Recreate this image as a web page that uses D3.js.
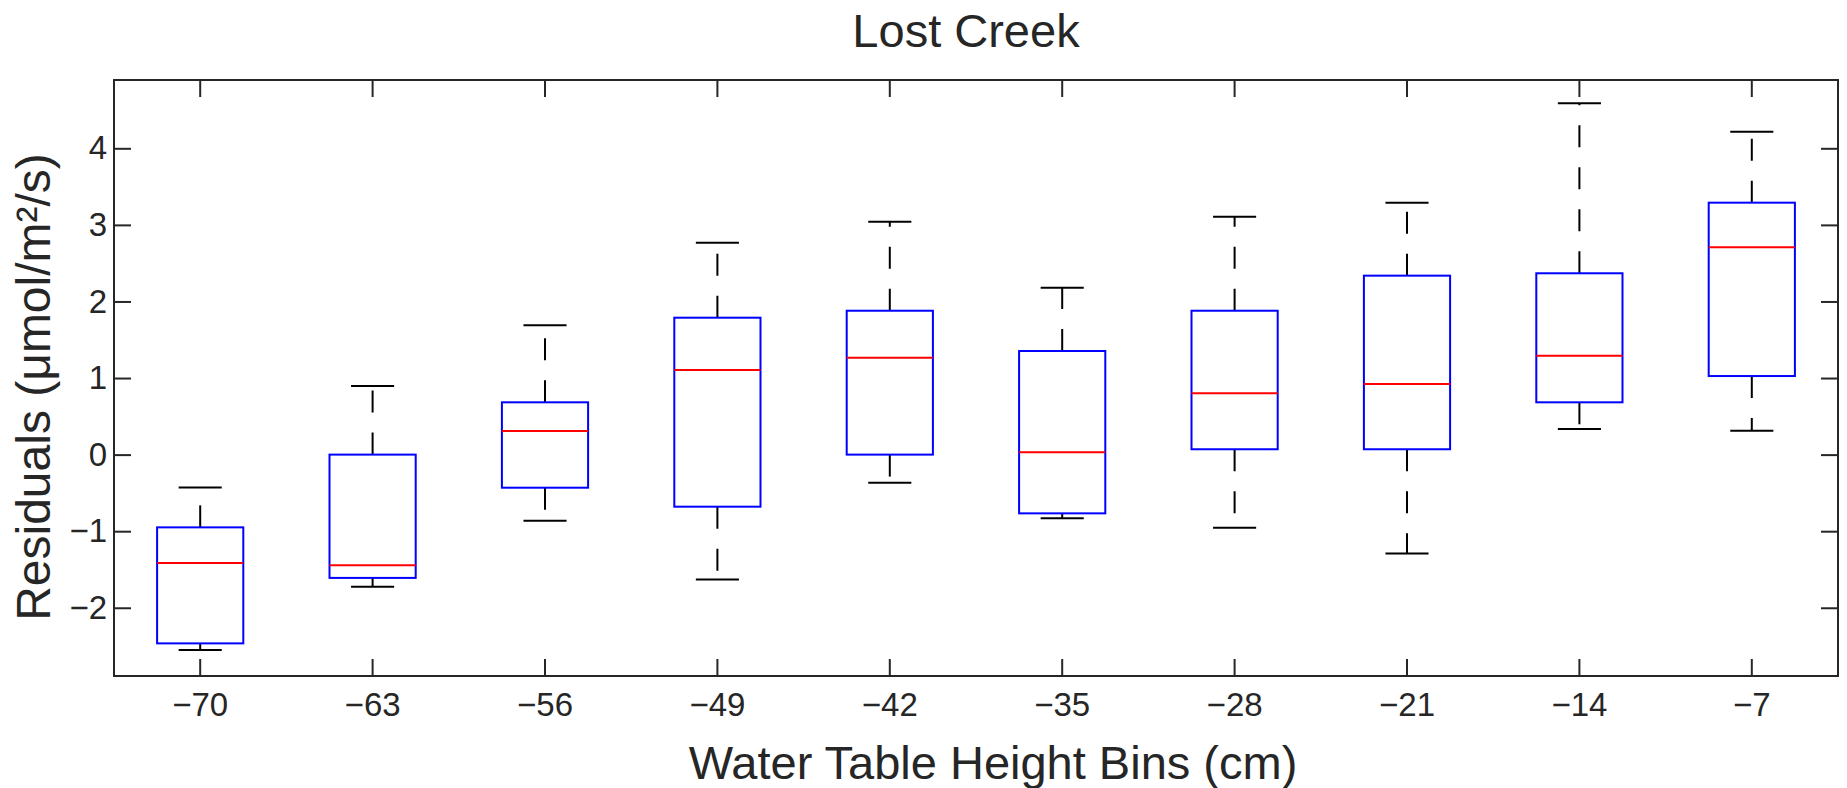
<!DOCTYPE html>
<html>
<head>
<meta charset="utf-8">
<script src="https://cdn.jsdelivr.net/npm/d3@7"></script>
<style>
  body { margin: 0; background: #fff; }
  text { font-family: "Liberation Sans", Arial, sans-serif; fill: #262626; }
</style>
</head>
<body>
<svg></svg>
<script>
const bins = [-70, -63, -56, -49, -42, -35, -28, -21, -14, -7];
const whiskerLow  = [-2.55, -1.725, -0.863, -1.63, -0.367, -0.83, -0.955, -1.29, 0.334, 0.312];
const q1          = [-2.465, -1.61, -0.432, -0.68, 0.0, -0.767, 0.07, 0.07, 0.683, 1.026];
const median      = [-1.416, -1.446, 0.308, 1.105, 1.266, 0.03, 0.80, 0.922, 1.292, 2.707];
const q3          = [-0.95, 0.0, 0.683, 1.788, 1.879, 1.353, 1.879, 2.337, 2.368, 3.29];
const whiskerHigh = [-0.43, 0.896, 1.69, 2.767, 3.042, 2.18, 3.107, 3.29, 4.588, 4.217];
const yTicks = [-2, -1, 0, 1, 2, 3, 4];

const width = 1847, height = 788;
const plot = { left: 114, right: 1838, top: 80, bottom: 676 };
const tickLen = 17;

const svg = d3.select("svg")
  .attr("width", width)
  .attr("height", height);

const x = d3.scaleBand()
  .domain(bins)
  .range([plot.left, plot.right])
  .padding(0);

const y = d3.scaleLinear()
  .domain([-2.891, 4.892])
  .range([plot.bottom, plot.top]);

const bw = x.bandwidth();
const cx = d => x(d) + bw / 2;

// axes, ticks pointing inward on all four sides
const styleAxis = g => {
  g.select(".domain").remove();
  g.selectAll(".tick line").attr("stroke", "#262626").attr("stroke-width", 2);
  g.selectAll(".tick text").attr("font-size", 33).attr("fill", "#262626")
    .style("font-family", "'Liberation Sans', Arial, sans-serif");
};

svg.append("g")
  .attr("transform", `translate(0,${plot.bottom})`)
  .call(d3.axisBottom(x).tickSizeInner(-tickLen).tickSizeOuter(0).tickPadding(17)
    .tickFormat(d3.format("d")))
  .call(styleAxis);

svg.append("g")
  .attr("transform", `translate(0,${plot.top})`)
  .call(d3.axisTop(x).tickSizeInner(-tickLen).tickSizeOuter(0).tickFormat(""))
  .call(styleAxis);

svg.append("g")
  .attr("transform", `translate(${plot.left},0)`)
  .call(d3.axisLeft(y).tickValues(yTicks).tickSizeInner(-tickLen).tickSizeOuter(0).tickPadding(7))
  .call(styleAxis);

svg.append("g")
  .attr("transform", `translate(${plot.right},0)`)
  .call(d3.axisRight(y).tickValues(yTicks).tickSizeInner(-tickLen).tickSizeOuter(0).tickFormat(""))
  .call(styleAxis);

svg.append("rect")
  .attr("x", plot.left)
  .attr("y", plot.top)
  .attr("width", plot.right - plot.left)
  .attr("height", plot.bottom - plot.top)
  .attr("fill", "none")
  .attr("stroke", "#262626")
  .attr("stroke-width", 2);

// boxes
const data = bins.map((b, i) => ({
  bin: b, lo: whiskerLow[i], q1: q1[i], med: median[i], q3: q3[i], hi: whiskerHigh[i]
}));

const box = svg.append("g").selectAll("g")
  .data(data)
  .join("g");

// whiskers drawn from the box outward so the dashes start at the box
box.append("line")
  .attr("x1", d => cx(d.bin)).attr("x2", d => cx(d.bin))
  .attr("y1", d => y(d.q3)).attr("y2", d => y(d.hi))
  .attr("stroke", "#000").attr("stroke-width", 2)
  .attr("stroke-dasharray", "22,20");

box.append("line")
  .attr("x1", d => cx(d.bin)).attr("x2", d => cx(d.bin))
  .attr("y1", d => y(d.q1)).attr("y2", d => y(d.lo))
  .attr("stroke", "#000").attr("stroke-width", 2)
  .attr("stroke-dasharray", "22,20");

box.append("line")
  .attr("x1", d => cx(d.bin) - bw / 8).attr("x2", d => cx(d.bin) + bw / 8)
  .attr("y1", d => y(d.hi)).attr("y2", d => y(d.hi))
  .attr("stroke", "#000").attr("stroke-width", 2);

box.append("line")
  .attr("x1", d => cx(d.bin) - bw / 8).attr("x2", d => cx(d.bin) + bw / 8)
  .attr("y1", d => y(d.lo)).attr("y2", d => y(d.lo))
  .attr("stroke", "#000").attr("stroke-width", 2);

box.append("rect")
  .attr("x", d => cx(d.bin) - bw / 4)
  .attr("width", bw / 2)
  .attr("y", d => y(d.q3))
  .attr("height", d => y(d.q1) - y(d.q3))
  .attr("fill", "#fff")
  .attr("stroke", "#0000ff")
  .attr("stroke-width", 2);

box.append("line")
  .attr("x1", d => cx(d.bin) - bw / 4).attr("x2", d => cx(d.bin) + bw / 4)
  .attr("y1", d => y(d.med)).attr("y2", d => y(d.med))
  .attr("stroke", "#ff0000").attr("stroke-width", 2);

// labels
svg.append("text")
  .attr("x", 966)
  .attr("y", 47)
  .attr("text-anchor", "middle")
  .attr("font-size", 47)
  .text("Lost Creek");

svg.append("text")
  .attr("x", 993)
  .attr("y", 779)
  .attr("text-anchor", "middle")
  .attr("font-size", 47)
  .text("Water Table Height Bins (cm)");

svg.append("text")
  .attr("transform", "translate(50,387) rotate(-90)")
  .attr("text-anchor", "middle")
  .attr("font-size", 48)
  .text("Residuals (μmol/m²/s)");
</script>
</body>
</html>
